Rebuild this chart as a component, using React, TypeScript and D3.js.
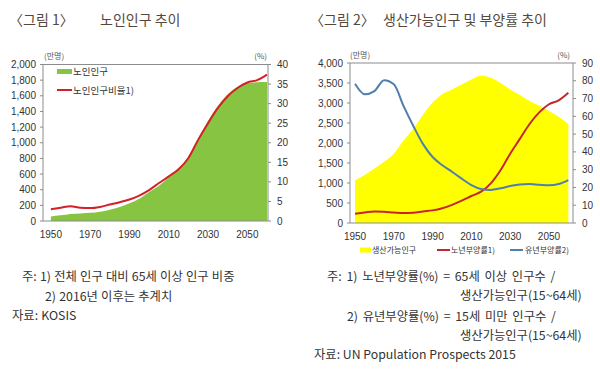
import React from "react";
import * as d3 from "d3";

const years = [1950,1955,1960,1965,1970,1975,1980,1985,1990,1995,2000,2005,2010,2015,2020,2025,2030,2035,2040,2045,2050,2055,2060];
const elderlyPop = [58,72,90,97,104,118,145,180,228,285,370,450,560,665,810,1050,1280,1470,1620,1715,1760,1772,1775];
const elderlyRatio = [3.0,3.4,3.8,3.4,3.3,3.6,4.2,4.8,5.5,6.5,7.9,9.7,11.4,13.2,16.1,20.8,25.0,28.9,31.9,34.0,35.4,36.0,37.4];
const workingPop = [1070,1200,1360,1530,1730,2060,2350,2700,3010,3220,3340,3465,3590,3690,3630,3500,3340,3200,3050,2930,2800,2655,2475];
const oldDep = [5.2,5.9,6.5,6.3,5.9,5.6,5.8,6.5,7.1,8.3,10.2,12.6,15.2,17.6,22.3,29.7,39.0,47.3,55.7,62.2,66.8,69.0,73.3];
const childDep = [78.3,72.4,74.2,80.3,78.0,65.9,54.7,44.5,37.1,32.5,28.8,25.0,21.3,19.1,18.6,19.5,20.8,21.7,21.9,21.5,21.2,21.9,24.1];
const xTicks = [1950,1970,1990,2010,2030,2050];
const left1Ticks = [0,200,400,600,800,1000,1200,1400,1600,1800,2000];
const right1Ticks = [0,5,10,15,20,25,30,35,40];
const left2Ticks = [0,500,1000,1500,2000,2500,3000,3500,4000];
const right2Ticks = [0,10,20,30,40,50,60,70,80,90];

const KR = "'Noto Sans CJK KR', 'Noto Sans', sans-serif";
const NUM = "'Liberation Sans', Arial, sans-serif";
const AXIS = "#8c8c8c";
const TXT = "#333";

type FrameProps = {
  x: d3.ScaleLinear<number, number>;
  yl: d3.ScaleLinear<number, number>;
  yr: d3.ScaleLinear<number, number>;
  lt: number[]; rt: number[];
  x0: number; x1: number; top: number; bottom: number; xLabelY: number;
};

function Frame({ x, yl, yr, lt, rt, x0, x1, top, bottom, xLabelY }: FrameProps) {
  const fmt = d3.format(",");
  return (
    <g>
      <line x1={x0} x2={x1} y1={top} y2={top} stroke={AXIS} strokeWidth={1} />
      <line x1={x0} x2={x1} y1={bottom} y2={bottom} stroke={AXIS} strokeWidth={1} />
      <line x1={x0} x2={x0} y1={top} y2={bottom} stroke={AXIS} strokeWidth={1} />
      <line x1={x1} x2={x1} y1={top} y2={bottom} stroke={AXIS} strokeWidth={1} />
      {lt.map((t) => (
        <g key={"l" + t}>
          <line x1={x0 - 3} x2={x0} y1={yl(t)} y2={yl(t)} stroke={AXIS} />
          <text x={x0 - 7} y={yl(t)} dy="0.35em" textAnchor="end" fontFamily={NUM} fontSize={10} fill={TXT}>{fmt(t)}</text>
        </g>
      ))}
      {rt.map((t) => (
        <g key={"r" + t}>
          <line x1={x1} x2={x1 + 3} y1={yr(t)} y2={yr(t)} stroke={AXIS} />
          <text x={x1 + 9} y={yr(t)} dy="0.35em" textAnchor="start" fontFamily={NUM} fontSize={10} fill={TXT}>{t}</text>
        </g>
      ))}
      {xTicks.map((t) => (
        <text key={"x" + t} x={x(t)} y={xLabelY} textAnchor="middle" fontFamily={NUM} fontSize={10} fill={TXT}>{t}</text>
      ))}
    </g>
  );
}

export default function App() {
  // Chart 1
  const x1 = d3.scaleLinear().domain([1946, 2060.5]).range([43, 268]);
  const y1l = d3.scaleLinear().domain([0, 2000]).range([221, 64.5]);
  const y1r = d3.scaleLinear().domain([0, 40]).range([221, 64.5]);
  const area1 = d3.area<number>().x((_, i) => x1(years[i])).y0(y1l(0)).y1((d) => y1l(d)).curve(d3.curveMonotoneX);
  const line1 = d3.line<number>().x((_, i) => x1(years[i])).y((d) => y1r(d)).curve(d3.curveMonotoneX);

  // Chart 2
  const x2 = d3.scaleLinear().domain([1947.4, 2062.4]).range([350, 573]);
  const y2l = d3.scaleLinear().domain([0, 4000]).range([223, 63]);
  const y2r = d3.scaleLinear().domain([0, 90]).range([223, 63]);
  const area2 = d3.area<number>().x((_, i) => x2(years[i])).y0(y2l(0)).y1((d) => y2l(d)).curve(d3.curveMonotoneX);
  const line2 = d3.line<number>().x((_, i) => x2(years[i])).y((d) => y2r(d)).curve(d3.curveMonotoneX);

  return (
    <svg width={600} height={376} style={{ position: "absolute", left: 0, top: 0, background: "#fff" }}>
      <rect x={0} y={0} width={600} height={376} fill="#fff" />
      {/* Titles */}
      <text x={9} y={25} fontFamily={KR} fontSize={14} fill="#54483c">〈그림 1〉</text>
      <text x={100} y={25} fontFamily={KR} fontSize={14} fill="#54483c">노인인구 추이</text>
      <text x={310} y={25} fontFamily={KR} fontSize={14} fill="#54483c">〈그림 2〉</text>
      <text x={383} y={25} fontFamily={KR} fontSize={14} fill="#54483c">생산가능인구 및 부양률 추이</text>

      {/* Chart 1 */}
      <path d={area1(elderlyPop) || ""} fill="#86c441" />
      <path d={line1(elderlyRatio) || ""} fill="none" stroke="#d42027" strokeWidth={2} />
      <Frame x={x1} yl={y1l} yr={y1r} lt={left1Ticks} rt={right1Ticks} x0={43} x1={268} top={64.5} bottom={221} xLabelY={238} />
      <text x={44} y={59} fontFamily={KR} fontSize={8} fill="#555">(만명)</text>
      <text x={267} y={59} textAnchor="end" fontFamily={KR} fontSize={8} fill="#555">(%)</text>
      <rect x={57} y={69} width={15} height={5} fill="#86c441" />
      <text x={73} y={71.5} dy="0.35em" fontFamily={KR} fontSize={9.5} fill={TXT}>노인인구</text>
      <line x1={57} x2={72} y1={90} y2={90} stroke="#d42027" strokeWidth={2} />
      <text x={73} y={90.5} dy="0.35em" fontFamily={KR} fontSize={9.5} fill={TXT}>노인인구비율1)</text>

      {/* Chart 2 */}
      <path d={area2(workingPop) || ""} fill="#ffff00" />
      <path d={line2(oldDep) || ""} fill="none" stroke="#c4262e" strokeWidth={2} />
      <path d={line2(childDep) || ""} fill="none" stroke="#4f7fae" strokeWidth={2} />
      <Frame x={x2} yl={y2l} yr={y2r} lt={left2Ticks} rt={right2Ticks} x0={350} x1={573} top={63} bottom={223} xLabelY={240} />
      <text x={350} y={58} fontFamily={KR} fontSize={8} fill="#555">(만명)</text>
      <text x={570} y={58} textAnchor="end" fontFamily={KR} fontSize={8} fill="#555">(%)</text>
      <rect x={360} y={247.5} width={11} height={5} fill="#ffff00" />
      <text x={372} y={250} dy="0.35em" fontFamily={KR} fontSize={8} fill={TXT}>생산가능인구</text>
      <line x1={437} x2={450} y1={250} y2={250} stroke="#c4262e" strokeWidth={2} />
      <text x={451} y={250} dy="0.35em" fontFamily={KR} fontSize={8} fill={TXT}>노년부양률1)</text>
      <line x1={510} x2={523} y1={250} y2={250} stroke="#4f7fae" strokeWidth={2} />
      <text x={525} y={250} dy="0.35em" fontFamily={KR} fontSize={8} fill={TXT}>유년부양률2)</text>

      {/* Footnotes left */}
      <g fontFamily={KR} fontSize={12.3} fill={TXT} wordSpacing={0.5}>
        <text x={22} y={281}>주: 1) 전체 인구 대비 65세 이상 인구 비중</text>
        <text x={45} y={301}>2) 2016년 이후는 추계치</text>
        <text x={12} y={320}>자료: KOSIS</text>
      </g>
      {/* Footnotes right */}
      <g fontFamily={KR} fontSize={12.3} fill={TXT}>
        <text x={327} y={281} wordSpacing={2}>주: 1) 노년부양률(%) = 65세 이상 인구수 /</text>
        <text x={460} y={300}>생산가능인구(15~64세)</text>
        <text x={347} y={321} wordSpacing={2}>2) 유년부양률(%) = 15세 미만 인구수 /</text>
        <text x={460} y={340}>생산가능인구(15~64세)</text>
        <text x={314} y={359}>자료: UN Population Prospects 2015</text>
      </g>
    </svg>
  );
}
